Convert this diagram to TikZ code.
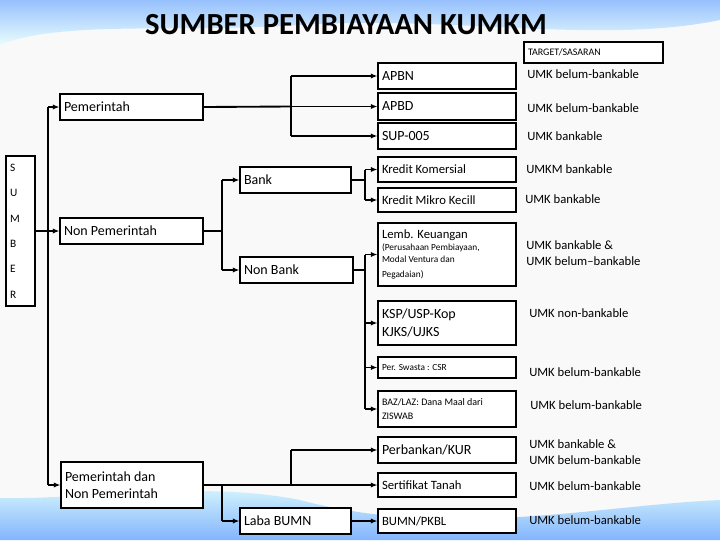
\documentclass[tikz,border=0pt]{standalone}
\usepackage{fontspec}
\setmainfont{Carlito}
\usetikzlibrary{arrows.meta}
\begin{document}
\begin{tikzpicture}[x=0.75pt,y=-0.75pt,
  box/.style={draw=black,fill=white,line width=0.8pt,inner sep=3pt,anchor=center,align=flush left,font=\fontsize{10.5}{12.5}\selectfont},
  conn/.style={line width=1.4pt,-{Latex[length=5pt,width=4pt]}},
  ln/.style={line width=1.4pt},
  tgt/.style={anchor=west,align=flush left,font=\fontsize{9.5}{11.5}\selectfont,inner sep=0pt}]
\useasboundingbox (0,0) rectangle (720,540);
\fill[white!95!gray] (0,0) rectangle (720,540);
% waves
\shade[top color=cyan!40!blue!50,bottom color=white!90!cyan,opacity=0.8] (0,0) -- (720,0) -- (720,20) .. controls (600,45) and (450,15) .. (300,25) .. controls (180,33) and (60,20) .. (0,45) -- cycle;
\shade[bottom color=cyan!40!blue!60,top color=white!85!cyan,opacity=0.8] (0,540) -- (720,540) -- (720,500) .. controls (600,505) and (450,540) .. (300,500) .. controls (200,480) and (80,500) .. (0,498) -- cycle;
\node[font=\bfseries\fontsize{23}{26}\selectfont] (title) at (346,25) {SUMBER PEMBIAYAAN KUMKM};
\node[box,font=\fontsize{7.5}{9}\selectfont,minimum width={139*0.75pt},minimum height={21*0.75pt},text width={139*0.75pt-6pt}] (target) at (593.5,52.5) {TARGET/SASARAN};
% left
\node[box,minimum width={29*0.75pt},minimum height={150*0.75pt},text width={29*0.75pt-6pt},font=\fontsize{8.5}{19}\selectfont] (sumber) at (20.5,231) {S\\U\\M\\B\\E\\R};
\node[box,minimum width={143*0.75pt},minimum height={26*0.75pt},text width={143*0.75pt-6pt}] (pem) at (131.5,107) {Pemerintah};
\node[box,minimum width={143*0.75pt},minimum height={26*0.75pt},text width={143*0.75pt-6pt}] (nonpem) at (131.5,231) {Non Pemerintah};
\node[box,minimum width={142*0.75pt},minimum height={46*0.75pt},text width={142*0.75pt-6pt}] (pemdan) at (132,485) {Pemerintah dan\\Non Pemerintah};
\node[box,minimum width={111*0.75pt},minimum height={26*0.75pt},text width={111*0.75pt-6pt}] (bank) at (295.5,180) {Bank};
\node[box,minimum width={113*0.75pt},minimum height={26*0.75pt},text width={113*0.75pt-6pt}] (nonbank) at (296.5,270) {Non Bank};
\node[box,minimum width={111*0.75pt},minimum height={26*0.75pt},text width={111*0.75pt-6pt}] (laba) at (295.5,521) {Laba BUMN};
% right boxes
\tikzset{rb/.style={box,minimum width={138*0.75pt},text width={138*0.75pt-6pt}}}
\node[rb,minimum height={26*0.75pt}] (apbn) at (447,76) {APBN};
\node[rb,minimum height={27*0.75pt}] (apbd) at (447,106.5) {APBD};
\node[rb,minimum height={26*0.75pt}] (sup) at (447,136) {SUP-005};
\node[rb,minimum height={25*0.75pt},font=\fontsize{9.5}{11}\selectfont] (kk) at (447,169.5) {Kredit Komersial};
\node[rb,minimum height={24*0.75pt},font=\fontsize{9.5}{11}\selectfont] (kmk) at (447,200) {Kredit Mikro Kecill};
\node[rb,minimum height={63*0.75pt},font=\fontsize{9.5}{11}\selectfont] (lemb) at (447,254.5) {Lemb. Keuangan\\[-1pt]{\fontsize{7}{9.5}\selectfont (Perusahaan Pembiayaan,\\ Modal Ventura dan\\ Pegadaian)}};
\node[rb,minimum height={44*0.75pt},font=\fontsize{10.5}{14}\selectfont] (ksp) at (447,323) {KSP/USP-Kop\\KJKS/UJKS};
\node[rb,minimum height={21*0.75pt},font=\fontsize{7}{9}\selectfont] (ps) at (447,367.5) {Per. Swasta : CSR};
\node[rb,minimum height={36*0.75pt},font=\fontsize{7.5}{10}\selectfont] (baz) at (447,409) {BAZ/LAZ: Dana Maal dari\\ZISWAB};
\node[rb,minimum height={26*0.75pt}] (kur) at (447,450) {Perbankan/KUR};
\node[rb,minimum height={24*0.75pt},font=\fontsize{9.5}{11}\selectfont] (st) at (447,485) {Sertifikat Tanah};
\node[rb,minimum height={24*0.75pt},font=\fontsize{9.5}{11}\selectfont] (pkbl) at (447,521) {BUMN/PKBL};
% targets
\node[tgt] (t1) at (527,74) {UMK belum-bankable};
\node[tgt] (t2) at (527,108) {UMK belum-bankable};
\node[tgt] (t3) at (527,136) {UMK bankable};
\node[tgt] (t4) at (526,169) {UMKM bankable};
\node[tgt] (t5) at (525,199) {UMK bankable};
\node[tgt] (t6) at (526,253) {UMK bankable \&\\UMK belum--bankable};
\node[tgt] (t7) at (529,313) {UMK non-bankable};
\node[tgt] (t8) at (529,372) {UMK belum-bankable};
\node[tgt] (t9) at (530,405) {UMK belum-bankable};
\node[tgt] (t10) at (529,452) {UMK bankable \&\\UMK belum-bankable};
\node[tgt] (t11) at (529,486) {UMK belum-bankable};
\node[tgt] (t12) at (529,520) {UMK belum-bankable};
% connectors
\coordinate (tr1) at (48,107);
\coordinate (tr2) at (48,485);
\draw[ln] (tr1) -- (tr2);
\draw[conn] (tr1) -- (pem.west);
\draw[conn] (sumber.east) -- (nonpem.west);
\draw[conn] (tr2) -- (pemdan.west);
% pemerintah
\draw[ln] (pem.east) -- (291,106.5);
\draw[ln] (291,76) -- (291,136);
\draw[conn] (291,76) -- (apbn.west);
\draw[conn] (291,106.5) -- (apbd.west);
\draw[conn] (291,136) -- (sup.west);
% non pemerintah
\draw[ln] (nonpem.east) -- (222,231);
\draw[ln] (222,180) -- (222,270);
\draw[conn] (222,180) -- (bank.west);
\draw[conn] (222,270) -- (nonbank.west);
\draw[ln] (bank.east) -- (365,180);
\draw[ln] (365,169.5) -- (365,200);
\draw[conn] (365,169.5) -- (kk.west);
\draw[conn] (365,200) -- (kmk.west);
\draw[ln] (nonbank.east) -- (365,270);
\draw[ln] (365,254.5) -- (365,409);
\draw[conn] (365,254.5) -- (lemb.west);
\draw[conn] (365,323) -- (ksp.west);
\draw[conn] (365,367.5) -- (ps.west);
\draw[conn] (365,409) -- (baz.west);
% pemerintah dan
\draw[conn] (pemdan.east) -- (st.west);
\draw[ln] (291,485) -- (291,450);
\draw[conn] (291,450) -- (kur.west);
\draw[ln] (222,485) -- (222,521);
\draw[conn] (222,521) -- (laba.west);
\draw[conn] (laba.east) -- (pkbl.west);
\end{tikzpicture}
\end{document}
